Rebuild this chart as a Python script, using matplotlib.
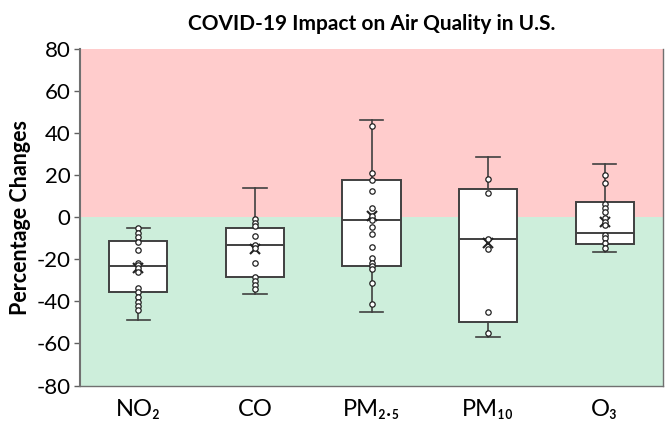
import numpy as np
import matplotlib.pyplot as plt

plt.rcParams['font.family'] = ['Lato', 'DejaVu Sans']
plt.rcParams['axes.unicode_minus'] = False

# data
pollutants = ['NO₂', 'CO', 'PM₂.₅', 'PM₁₀', 'O₃']

no2_pts = [-5.3, -7.3, -9.2, -11.6, -15.6, -21.6, -22.7, -24.2, -25.9,
           -33.8, -35.4, -37.8, -40.2, -42.2, -44.1]
co_pts = [-1.0, -2.6, -4.2, -8.9, -13.2, -14.8, -21.9, -28.6, -30.2, -32.2, -34.3]
pm25_pts = [43.4, 21.2, 17.7, 12.6, 4.5, 0.8, -1.3, -4.8, -8.1, -14.0,
            -19.2, -21.9, -23.2, -24.8, -31.1, -41.2]
pm10_pts = [18.0, 11.7, -10.2, -15.1, -44.9, -55.2]
o3_pts = [20.1, 16.4, 6.2, 4.3, 2.4, -0.5, -2.1, -3.7, -8.5, -10.0, -12.4, -14.8]
points = [no2_pts, co_pts, pm25_pts, pm10_pts, o3_pts]

q1 = [-35.5, -28.5, -23.0, -49.7, -12.6]
median = [-23.0, -13.3, -1.2, -10.2, -7.3]
q3 = [-11.1, -5.3, 17.9, 13.3, 7.1]
whis_lo = [-48.9, -36.6, -44.9, -57.1, -16.5]
whis_hi = [-5.0, 13.7, 46.2, 28.8, 25.2]
means = [-24.0, -15.0, 0.5, -12.4, -2.1]

stats = []
for i in range(len(pollutants)):
    stats.append({'med': median[i], 'q1': q1[i], 'q3': q3[i],
                  'whislo': whis_lo[i], 'whishi': whis_hi[i],
                  'mean': means[i], 'fliers': []})

fig = plt.figure(figsize=(6.66, 4.28), dpi=100)
ax = fig.add_axes([80 / 666, 1 - 385.5 / 428, 583 / 666, 336.5 / 428])

ax.axhspan(0, 80, color='#ffcccc', zorder=0, lw=0)
ax.axhspan(-80, 0, color='#cdeedb', zorder=0, lw=0)

edge = '#404040'
pos = np.arange(1, len(pollutants) + 1)
ax.bxp(stats, positions=pos, widths=0.5, patch_artist=True, showmeans=True,
       boxprops=dict(facecolor='white', edgecolor=edge, lw=1.4),
       medianprops=dict(color=edge, lw=1.4),
       whiskerprops=dict(color=edge, lw=1.2),
       capprops=dict(color=edge, lw=1.2),
       meanprops=dict(marker='x', markeredgecolor='#202020', markersize=7, mew=1.5),
       capwidths=0.2, zorder=2)

for p, vals in zip(pos, points):
    ax.scatter([p] * len(vals), vals, s=15, facecolor='white',
               edgecolor='#202020', lw=0.9, zorder=4)

ax.set_xlim(0.5, 5.5)
ax.set_ylim(-80, 80)
ax.set_yticks(np.arange(-80, 81, 20))
ax.set_xticks(pos)
ax.set_xticklabels(pollutants)
ax.tick_params(axis='x', length=0, labelsize=17, pad=10)
ax.tick_params(axis='y', length=4, width=1, color='#606060', labelsize=16, pad=3)
for s in ax.spines.values():
    s.set_color('#707070')
    s.set_linewidth(1.0)
ax.spines['left'].set_linewidth(1.5)
ax.spines['top'].set_visible(False)

ax.set_ylabel('Percentage Changes', fontsize=15.5, fontweight='bold', labelpad=4)
ax.set_title('COVID-19 Impact on Air Quality in U.S.', fontsize=15,
             fontweight='bold', pad=14)

fig.savefig('out.png', dpi=100)
